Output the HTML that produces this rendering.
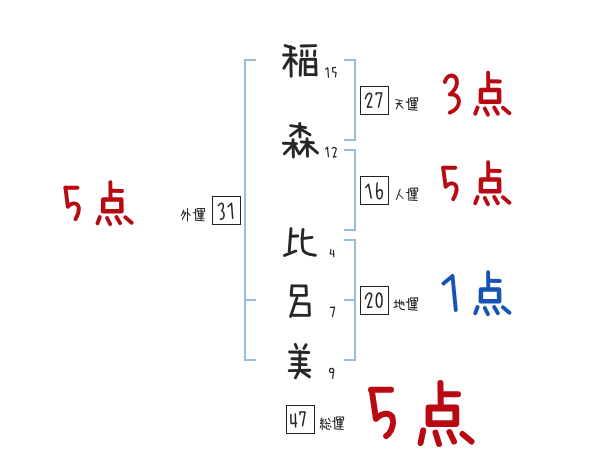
<!DOCTYPE html>
<html><head><meta charset="utf-8"><style>
html,body{margin:0;padding:0;background:#fff;width:600px;height:470px;overflow:hidden;font-family:"Liberation Sans",sans-serif}
svg{display:block}
</style></head><body>
<svg width="600" height="470" viewBox="0 0 600 470">
<rect x="244" y="59" width="2" height="302" fill="#98bddd"/>
<rect x="244" y="59" width="12" height="2" fill="#98bddd"/>
<rect x="244" y="299" width="12" height="2" fill="#98bddd"/>
<rect x="244" y="359" width="12" height="2" fill="#98bddd"/>
<rect x="354" y="59" width="2" height="82" fill="#98bddd"/>
<rect x="344" y="59" width="12" height="2" fill="#98bddd"/>
<rect x="344" y="139" width="12" height="2" fill="#98bddd"/>
<rect x="354" y="149" width="2" height="82" fill="#98bddd"/>
<rect x="344" y="149" width="12" height="2" fill="#98bddd"/>
<rect x="344" y="229" width="12" height="2" fill="#98bddd"/>
<rect x="354" y="239" width="2" height="122" fill="#98bddd"/>
<rect x="344" y="239" width="12" height="2" fill="#98bddd"/>
<rect x="344" y="299" width="12" height="2" fill="#98bddd"/>
<rect x="344" y="359" width="12" height="2" fill="#98bddd"/>
<rect x="360.5" y="86.5" width="28" height="28" fill="none" stroke="#222" stroke-width="1"/>
<rect x="360.5" y="176.5" width="28" height="28" fill="none" stroke="#222" stroke-width="1"/>
<rect x="360.5" y="286.5" width="28" height="28" fill="none" stroke="#222" stroke-width="1"/>
<rect x="212.5" y="196.5" width="28" height="28" fill="none" stroke="#222" stroke-width="1"/>
<rect x="286.5" y="405.5" width="28" height="28" fill="none" stroke="#222" stroke-width="1"/>
<polyline points="285.20,45.60 294.40,48.40" fill="none" stroke="#262626" stroke-width="2.9" stroke-linecap="round" stroke-linejoin="round"/>
<polyline points="283.60,55.00 296.20,55.00" fill="none" stroke="#262626" stroke-width="2.9" stroke-linecap="round" stroke-linejoin="round"/>
<polyline points="290.60,46.80 291.20,76.40" fill="none" stroke="#262626" stroke-width="2.9" stroke-linecap="round" stroke-linejoin="round"/>
<polyline points="289.80,58.40 283.80,68.20" fill="none" stroke="#262626" stroke-width="2.9" stroke-linecap="round" stroke-linejoin="round"/>
<polyline points="292.40,59.20 296.40,63.80" fill="none" stroke="#262626" stroke-width="2.9" stroke-linecap="round" stroke-linejoin="round"/>
<polyline points="301.20,46.00 315.80,45.60" fill="none" stroke="#262626" stroke-width="2.9" stroke-linecap="round" stroke-linejoin="round"/>
<polyline points="301.80,51.00 301.80,55.80" fill="none" stroke="#262626" stroke-width="2.9" stroke-linecap="round" stroke-linejoin="round"/>
<polyline points="307.00,51.00 307.00,55.80" fill="none" stroke="#262626" stroke-width="2.9" stroke-linecap="round" stroke-linejoin="round"/>
<polyline points="314.80,51.00 314.50,55.50" fill="none" stroke="#262626" stroke-width="2.9" stroke-linecap="round" stroke-linejoin="round"/>
<polyline points="300.80,61.00 300.20,75.40" fill="none" stroke="#262626" stroke-width="2.9" stroke-linecap="round" stroke-linejoin="round"/>
<polyline points="305.20,61.00 305.20,74.80" fill="none" stroke="#262626" stroke-width="2.9" stroke-linecap="round" stroke-linejoin="round"/>
<polyline points="301.00,59.40 315.60,59.20 316.00,75.00" fill="none" stroke="#262626" stroke-width="2.9" stroke-linecap="round" stroke-linejoin="round"/>
<polyline points="305.30,66.80 315.60,66.80" fill="none" stroke="#262626" stroke-width="2.9" stroke-linecap="round" stroke-linejoin="round"/>
<polyline points="305.30,74.60 316.00,74.60" fill="none" stroke="#262626" stroke-width="2.9" stroke-linecap="round" stroke-linejoin="round"/>
<polyline points="290.80,125.60 305.60,127.60" fill="none" stroke="#262626" stroke-width="2.9" stroke-linecap="round" stroke-linejoin="round"/>
<polyline points="299.70,123.40 300.00,137.00" fill="none" stroke="#262626" stroke-width="2.9" stroke-linecap="round" stroke-linejoin="round"/>
<polyline points="299.10,129.20 290.60,135.60" fill="none" stroke="#262626" stroke-width="2.9" stroke-linecap="round" stroke-linejoin="round"/>
<polyline points="300.90,129.20 310.00,134.70" fill="none" stroke="#262626" stroke-width="2.9" stroke-linecap="round" stroke-linejoin="round"/>
<polyline points="283.40,143.30 296.50,143.60" fill="none" stroke="#262626" stroke-width="2.9" stroke-linecap="round" stroke-linejoin="round"/>
<polyline points="293.00,139.60 293.40,157.00" fill="none" stroke="#262626" stroke-width="2.9" stroke-linecap="round" stroke-linejoin="round"/>
<polyline points="292.50,145.20 284.40,153.80" fill="none" stroke="#262626" stroke-width="2.9" stroke-linecap="round" stroke-linejoin="round"/>
<polyline points="294.90,146.30 298.90,153.40" fill="none" stroke="#262626" stroke-width="2.9" stroke-linecap="round" stroke-linejoin="round"/>
<polyline points="301.20,141.90 313.40,142.80" fill="none" stroke="#262626" stroke-width="2.9" stroke-linecap="round" stroke-linejoin="round"/>
<polyline points="307.00,138.80 307.50,156.20" fill="none" stroke="#262626" stroke-width="2.9" stroke-linecap="round" stroke-linejoin="round"/>
<polyline points="306.60,144.20 299.50,153.80" fill="none" stroke="#262626" stroke-width="2.9" stroke-linecap="round" stroke-linejoin="round"/>
<polyline points="308.40,145.20 317.50,152.90" fill="none" stroke="#262626" stroke-width="2.9" stroke-linecap="round" stroke-linejoin="round"/>
<polyline points="291.00,228.60 289.20,251.60" fill="none" stroke="#262626" stroke-width="2.9" stroke-linecap="round" stroke-linejoin="round"/>
<polyline points="290.20,236.20 297.80,236.00" fill="none" stroke="#262626" stroke-width="2.9" stroke-linecap="round" stroke-linejoin="round"/>
<polyline points="284.60,255.40 295.80,251.00" fill="none" stroke="#262626" stroke-width="2.9" stroke-linecap="round" stroke-linejoin="round"/>
<polyline points="302.00,238.60 312.00,237.40" fill="none" stroke="#262626" stroke-width="2.9" stroke-linecap="round" stroke-linejoin="round"/>
<path d="M303,229.4 Q301.2,245 303.2,250.5 Q306.5,254.8 315.4,255.2" fill="none" stroke="#262626" stroke-width="2.9" stroke-linecap="round" stroke-linejoin="round"/>
<polyline points="292.00,285.60 306.00,286.00 306.40,295.20 291.20,295.40 292.00,285.60" fill="none" stroke="#262626" stroke-width="2.9" stroke-linecap="round" stroke-linejoin="round"/>
<polyline points="297.00,297.60 290.60,316.40" fill="none" stroke="#262626" stroke-width="2.9" stroke-linecap="round" stroke-linejoin="round"/>
<polyline points="295.00,303.60 309.00,304.00 309.40,315.40 292.60,315.20" fill="none" stroke="#262626" stroke-width="2.9" stroke-linecap="round" stroke-linejoin="round"/>
<polyline points="295.30,344.40 296.90,348.20" fill="none" stroke="#262626" stroke-width="2.9" stroke-linecap="round" stroke-linejoin="round"/>
<polyline points="306.10,344.80 303.90,348.60" fill="none" stroke="#262626" stroke-width="2.9" stroke-linecap="round" stroke-linejoin="round"/>
<polyline points="289.60,352.00 308.80,352.50" fill="none" stroke="#262626" stroke-width="2.9" stroke-linecap="round" stroke-linejoin="round"/>
<polyline points="292.00,358.80 306.00,359.00" fill="none" stroke="#262626" stroke-width="2.9" stroke-linecap="round" stroke-linejoin="round"/>
<polyline points="292.00,364.40 306.20,364.60" fill="none" stroke="#262626" stroke-width="2.9" stroke-linecap="round" stroke-linejoin="round"/>
<polyline points="289.20,370.60 309.80,370.20" fill="none" stroke="#262626" stroke-width="2.9" stroke-linecap="round" stroke-linejoin="round"/>
<polyline points="300.00,351.40 299.50,370.00 295.40,377.80" fill="none" stroke="#262626" stroke-width="2.9" stroke-linecap="round" stroke-linejoin="round"/>
<polyline points="301.60,371.40 309.40,376.80" fill="none" stroke="#262626" stroke-width="2.9" stroke-linecap="round" stroke-linejoin="round"/>
<polyline points="325.61,69.15 327.80,67.80 328.47,77.22" fill="none" stroke="#262626" stroke-width="1.2" stroke-linecap="round" stroke-linejoin="round"/>
<polyline points="335.62,67.45 332.50,67.80 332.90,71.90 336.10,72.50 335.47,76.83" fill="none" stroke="#262626" stroke-width="1.2" stroke-linecap="round" stroke-linejoin="round"/>
<polyline points="325.56,148.98 327.40,147.30 328.45,156.72" fill="none" stroke="#262626" stroke-width="1.2" stroke-linecap="round" stroke-linejoin="round"/>
<path d="M332.2,148.3 Q334.5,146 336.4,148.9 L333.5,157.2 L336.1,156.6" fill="none" stroke="#262626" stroke-width="1.2" stroke-linecap="round" stroke-linejoin="round"/>
<polyline points="330.92,249.47 330.20,254.00 333.72,254.00" fill="none" stroke="#262626" stroke-width="1.2" stroke-linecap="round" stroke-linejoin="round"/>
<polyline points="333.43,250.48 333.77,256.72" fill="none" stroke="#262626" stroke-width="1.2" stroke-linecap="round" stroke-linejoin="round"/>
<polyline points="330.40,307.40 334.60,307.10 332.50,316.60" fill="none" stroke="#262626" stroke-width="1.2" stroke-linecap="round" stroke-linejoin="round"/>
<circle cx="331.6" cy="370.4" r="2.1" fill="none" stroke="#262626" stroke-width="1.2"/>
<polyline points="333.54,371.08 332.66,378.52" fill="none" stroke="#262626" stroke-width="1.2" stroke-linecap="round" stroke-linejoin="round"/>
<path d="M365.4,98.8 Q366.5,93.8 369.6,93.3 Q372,93.5 371.6,96.5 L367.3,107.3 L371.9,107.1" fill="none" stroke="#262626" stroke-width="1.5" stroke-linecap="round" stroke-linejoin="round"/>
<polyline points="376.10,94.60 376.20,93.10 381.70,93.10 378.50,107.10" fill="none" stroke="#262626" stroke-width="1.5" stroke-linecap="round" stroke-linejoin="round"/>
<polyline points="365.70,187.50 368.60,184.30 371.20,198.00" fill="none" stroke="#262626" stroke-width="1.5" stroke-linecap="round" stroke-linejoin="round"/>
<path d="M377.2,183 Q376.3,189 376.8,194.5 Q377.4,198.8 379.4,198.8 Q382.2,198.4 382.4,193.2 Q382.2,189.6 380.2,189.7 Q378.6,189.9 377.4,191.6" fill="none" stroke="#262626" stroke-width="1.5" stroke-linecap="round" stroke-linejoin="round"/>
<path d="M365.4,298.8 Q366.5,293.8 369.6,293.1 Q372,293.5 371.6,296.3 L367.6,307.4 L371.9,307.1" fill="none" stroke="#262626" stroke-width="1.5" stroke-linecap="round" stroke-linejoin="round"/>
<ellipse cx="379.15" cy="300.2" rx="2.9" ry="7.1" fill="none" stroke="#262626" stroke-width="1.5"/>
<path d="M218.4,205.6 Q219.8,203.3 221.6,203.3 Q223.6,203.8 223.3,206.8 Q222.8,209.6 221.6,210.7 Q224.2,212 224.1,215.6 Q223.8,219 220.4,219.3" fill="none" stroke="#262626" stroke-width="1.5" stroke-linecap="round" stroke-linejoin="round"/>
<polyline points="228.00,206.80 231.50,203.30 232.70,218.30" fill="none" stroke="#262626" stroke-width="1.5" stroke-linecap="round" stroke-linejoin="round"/>
<polyline points="290.80,414.60 291.10,423.50 296.50,423.20" fill="none" stroke="#262626" stroke-width="1.5" stroke-linecap="round" stroke-linejoin="round"/>
<polyline points="295.30,413.90 295.60,427.00" fill="none" stroke="#262626" stroke-width="1.5" stroke-linecap="round" stroke-linejoin="round"/>
<polyline points="300.10,414.60 300.00,412.00 305.10,412.00 302.60,425.70" fill="none" stroke="#262626" stroke-width="1.5" stroke-linecap="round" stroke-linejoin="round"/>
<polyline points="406.20,102.10 409.00,102.10" fill="none" stroke="#2a2a2a" stroke-width="1.05" stroke-linecap="round" stroke-linejoin="round"/>
<polyline points="408.60,98.40 408.80,108.80" fill="none" stroke="#2a2a2a" stroke-width="1.05" stroke-linecap="round" stroke-linejoin="round"/>
<polyline points="408.40,109.60 417.20,110.20" fill="none" stroke="#2a2a2a" stroke-width="1.05" stroke-linecap="round" stroke-linejoin="round"/>
<polyline points="410.30,101.00 410.30,97.90 417.60,97.80 417.60,101.00" fill="none" stroke="#2a2a2a" stroke-width="1.05" stroke-linecap="round" stroke-linejoin="round"/>
<polyline points="414.20,99.00 414.20,109.00" fill="none" stroke="#2a2a2a" stroke-width="1.05" stroke-linecap="round" stroke-linejoin="round"/>
<polyline points="411.50,100.40 416.00,100.40 416.00,105.50 411.50,105.50 411.50,100.40" fill="none" stroke="#2a2a2a" stroke-width="1.05" stroke-linecap="round" stroke-linejoin="round"/>
<polyline points="411.50,103.00 416.00,103.00" fill="none" stroke="#2a2a2a" stroke-width="1.05" stroke-linecap="round" stroke-linejoin="round"/>
<polyline points="410.20,107.60 417.00,107.60" fill="none" stroke="#2a2a2a" stroke-width="1.05" stroke-linecap="round" stroke-linejoin="round"/>
<polyline points="406.20,192.40 409.00,192.40" fill="none" stroke="#2a2a2a" stroke-width="1.05" stroke-linecap="round" stroke-linejoin="round"/>
<polyline points="408.60,188.70 408.80,199.10" fill="none" stroke="#2a2a2a" stroke-width="1.05" stroke-linecap="round" stroke-linejoin="round"/>
<polyline points="408.40,199.90 417.20,200.50" fill="none" stroke="#2a2a2a" stroke-width="1.05" stroke-linecap="round" stroke-linejoin="round"/>
<polyline points="410.30,191.30 410.30,188.20 417.60,188.10 417.60,191.30" fill="none" stroke="#2a2a2a" stroke-width="1.05" stroke-linecap="round" stroke-linejoin="round"/>
<polyline points="414.20,189.30 414.20,199.30" fill="none" stroke="#2a2a2a" stroke-width="1.05" stroke-linecap="round" stroke-linejoin="round"/>
<polyline points="411.50,190.70 416.00,190.70 416.00,195.80 411.50,195.80 411.50,190.70" fill="none" stroke="#2a2a2a" stroke-width="1.05" stroke-linecap="round" stroke-linejoin="round"/>
<polyline points="411.50,193.30 416.00,193.30" fill="none" stroke="#2a2a2a" stroke-width="1.05" stroke-linecap="round" stroke-linejoin="round"/>
<polyline points="410.20,197.90 417.00,197.90" fill="none" stroke="#2a2a2a" stroke-width="1.05" stroke-linecap="round" stroke-linejoin="round"/>
<polyline points="406.20,302.10 409.00,302.10" fill="none" stroke="#2a2a2a" stroke-width="1.05" stroke-linecap="round" stroke-linejoin="round"/>
<polyline points="408.60,298.40 408.80,308.80" fill="none" stroke="#2a2a2a" stroke-width="1.05" stroke-linecap="round" stroke-linejoin="round"/>
<polyline points="408.40,309.60 417.20,310.20" fill="none" stroke="#2a2a2a" stroke-width="1.05" stroke-linecap="round" stroke-linejoin="round"/>
<polyline points="410.30,301.00 410.30,297.90 417.60,297.80 417.60,301.00" fill="none" stroke="#2a2a2a" stroke-width="1.05" stroke-linecap="round" stroke-linejoin="round"/>
<polyline points="414.20,299.00 414.20,309.00" fill="none" stroke="#2a2a2a" stroke-width="1.05" stroke-linecap="round" stroke-linejoin="round"/>
<polyline points="411.50,300.40 416.00,300.40 416.00,305.50 411.50,305.50 411.50,300.40" fill="none" stroke="#2a2a2a" stroke-width="1.05" stroke-linecap="round" stroke-linejoin="round"/>
<polyline points="411.50,303.00 416.00,303.00" fill="none" stroke="#2a2a2a" stroke-width="1.05" stroke-linecap="round" stroke-linejoin="round"/>
<polyline points="410.20,307.60 417.00,307.60" fill="none" stroke="#2a2a2a" stroke-width="1.05" stroke-linecap="round" stroke-linejoin="round"/>
<polyline points="193.10,212.70 195.90,212.70" fill="none" stroke="#2a2a2a" stroke-width="1.05" stroke-linecap="round" stroke-linejoin="round"/>
<polyline points="195.50,209.00 195.70,219.40" fill="none" stroke="#2a2a2a" stroke-width="1.05" stroke-linecap="round" stroke-linejoin="round"/>
<polyline points="195.30,220.20 204.10,220.80" fill="none" stroke="#2a2a2a" stroke-width="1.05" stroke-linecap="round" stroke-linejoin="round"/>
<polyline points="197.20,211.60 197.20,208.50 204.50,208.40 204.50,211.60" fill="none" stroke="#2a2a2a" stroke-width="1.05" stroke-linecap="round" stroke-linejoin="round"/>
<polyline points="201.10,209.60 201.10,219.60" fill="none" stroke="#2a2a2a" stroke-width="1.05" stroke-linecap="round" stroke-linejoin="round"/>
<polyline points="198.40,211.00 202.90,211.00 202.90,216.10 198.40,216.10 198.40,211.00" fill="none" stroke="#2a2a2a" stroke-width="1.05" stroke-linecap="round" stroke-linejoin="round"/>
<polyline points="198.40,213.60 202.90,213.60" fill="none" stroke="#2a2a2a" stroke-width="1.05" stroke-linecap="round" stroke-linejoin="round"/>
<polyline points="197.10,218.20 203.90,218.20" fill="none" stroke="#2a2a2a" stroke-width="1.05" stroke-linecap="round" stroke-linejoin="round"/>
<polyline points="332.20,421.30 335.00,421.30" fill="none" stroke="#2a2a2a" stroke-width="1.05" stroke-linecap="round" stroke-linejoin="round"/>
<polyline points="334.60,417.60 334.80,428.00" fill="none" stroke="#2a2a2a" stroke-width="1.05" stroke-linecap="round" stroke-linejoin="round"/>
<polyline points="334.40,428.80 343.20,429.40" fill="none" stroke="#2a2a2a" stroke-width="1.05" stroke-linecap="round" stroke-linejoin="round"/>
<polyline points="336.30,420.20 336.30,417.10 343.60,417.00 343.60,420.20" fill="none" stroke="#2a2a2a" stroke-width="1.05" stroke-linecap="round" stroke-linejoin="round"/>
<polyline points="340.20,418.20 340.20,428.20" fill="none" stroke="#2a2a2a" stroke-width="1.05" stroke-linecap="round" stroke-linejoin="round"/>
<polyline points="337.50,419.60 342.00,419.60 342.00,424.70 337.50,424.70 337.50,419.60" fill="none" stroke="#2a2a2a" stroke-width="1.05" stroke-linecap="round" stroke-linejoin="round"/>
<polyline points="337.50,422.20 342.00,422.20" fill="none" stroke="#2a2a2a" stroke-width="1.05" stroke-linecap="round" stroke-linejoin="round"/>
<polyline points="336.20,426.80 343.00,426.80" fill="none" stroke="#2a2a2a" stroke-width="1.05" stroke-linecap="round" stroke-linejoin="round"/>
<polyline points="395.90,99.40 402.40,100.90" fill="none" stroke="#2a2a2a" stroke-width="1.05" stroke-linecap="round" stroke-linejoin="round"/>
<polyline points="396.30,103.60 401.20,103.60" fill="none" stroke="#2a2a2a" stroke-width="1.05" stroke-linecap="round" stroke-linejoin="round"/>
<polyline points="399.30,101.60 396.40,109.00" fill="none" stroke="#2a2a2a" stroke-width="1.05" stroke-linecap="round" stroke-linejoin="round"/>
<polyline points="399.20,104.30 403.10,108.30" fill="none" stroke="#2a2a2a" stroke-width="1.05" stroke-linecap="round" stroke-linejoin="round"/>
<polyline points="400.20,189.30 396.40,199.40" fill="none" stroke="#2a2a2a" stroke-width="1.05" stroke-linecap="round" stroke-linejoin="round"/>
<polyline points="398.80,194.00 403.00,198.50" fill="none" stroke="#2a2a2a" stroke-width="1.05" stroke-linecap="round" stroke-linejoin="round"/>
<polyline points="394.30,302.50 398.20,302.30" fill="none" stroke="#2a2a2a" stroke-width="1.05" stroke-linecap="round" stroke-linejoin="round"/>
<polyline points="396.00,300.00 396.20,306.80" fill="none" stroke="#2a2a2a" stroke-width="1.05" stroke-linecap="round" stroke-linejoin="round"/>
<polyline points="393.90,307.60 397.60,306.20" fill="none" stroke="#2a2a2a" stroke-width="1.05" stroke-linecap="round" stroke-linejoin="round"/>
<path transform="translate(0,0)" d="M399.5,299.8 L399.7,306.8 Q400.2,309.6 404.4,309.6" fill="none" stroke="#2a2a2a" stroke-width="1.05" stroke-linecap="round" stroke-linejoin="round"/>
<polyline points="398.40,303.30 403.70,302.50 403.90,305.40" fill="none" stroke="#2a2a2a" stroke-width="1.05" stroke-linecap="round" stroke-linejoin="round"/>
<polyline points="401.70,301.10 401.90,304.60" fill="none" stroke="#2a2a2a" stroke-width="1.05" stroke-linecap="round" stroke-linejoin="round"/>
<polyline points="183.70,210.00 181.40,215.60" fill="none" stroke="#2a2a2a" stroke-width="1.05" stroke-linecap="round" stroke-linejoin="round"/>
<polyline points="183.30,212.00 185.90,212.50 182.30,219.40" fill="none" stroke="#2a2a2a" stroke-width="1.05" stroke-linecap="round" stroke-linejoin="round"/>
<polyline points="183.70,213.40 184.80,214.30" fill="none" stroke="#2a2a2a" stroke-width="1.05" stroke-linecap="round" stroke-linejoin="round"/>
<polyline points="187.50,208.50 187.50,221.00" fill="none" stroke="#2a2a2a" stroke-width="1.05" stroke-linecap="round" stroke-linejoin="round"/>
<polyline points="188.10,213.20 190.20,215.40" fill="none" stroke="#2a2a2a" stroke-width="1.05" stroke-linecap="round" stroke-linejoin="round"/>
<polyline points="322.00,418.00 320.60,420.60 323.20,421.20" fill="none" stroke="#2a2a2a" stroke-width="1.05" stroke-linecap="round" stroke-linejoin="round"/>
<polyline points="323.40,419.40 320.40,423.60 324.20,423.00" fill="none" stroke="#2a2a2a" stroke-width="1.05" stroke-linecap="round" stroke-linejoin="round"/>
<polyline points="322.20,424.20 322.20,429.40" fill="none" stroke="#2a2a2a" stroke-width="1.05" stroke-linecap="round" stroke-linejoin="round"/>
<polyline points="320.80,426.00 320.20,427.80" fill="none" stroke="#2a2a2a" stroke-width="1.05" stroke-linecap="round" stroke-linejoin="round"/>
<polyline points="323.40,425.80 324.20,427.20" fill="none" stroke="#2a2a2a" stroke-width="1.05" stroke-linecap="round" stroke-linejoin="round"/>
<polyline points="326.00,419.00 325.00,421.40" fill="none" stroke="#2a2a2a" stroke-width="1.05" stroke-linecap="round" stroke-linejoin="round"/>
<polyline points="328.40,418.40 330.20,421.20" fill="none" stroke="#2a2a2a" stroke-width="1.05" stroke-linecap="round" stroke-linejoin="round"/>
<polyline points="326.80,422.00 325.60,423.80 330.00,423.40" fill="none" stroke="#2a2a2a" stroke-width="1.05" stroke-linecap="round" stroke-linejoin="round"/>
<path transform="translate(0,0)" d="M326.4,425.4 L326.2,428.4 Q326.4,429.4 329.6,429.2" fill="none" stroke="#2a2a2a" stroke-width="1.05" stroke-linecap="round" stroke-linejoin="round"/>
<polyline points="328.20,425.20 328.80,426.40" fill="none" stroke="#2a2a2a" stroke-width="1.05" stroke-linecap="round" stroke-linejoin="round"/>
<polyline points="330.40,426.00 331.00,427.20" fill="none" stroke="#2a2a2a" stroke-width="1.05" stroke-linecap="round" stroke-linejoin="round"/>
<polyline points="324.60,426.60 325.00,427.80" fill="none" stroke="#2a2a2a" stroke-width="1.05" stroke-linecap="round" stroke-linejoin="round"/>
<polyline points="488.10,72.80 488.30,89.50" fill="none" stroke="#b90a14" stroke-width="3.9" stroke-linecap="round" stroke-linejoin="round"/>
<polyline points="490.00,81.30 499.80,81.50" fill="none" stroke="#b90a14" stroke-width="3.9" stroke-linecap="round" stroke-linejoin="round"/>
<polyline points="477.60,107.50 475.20,113.70" fill="none" stroke="#b90a14" stroke-width="3.9" stroke-linecap="round" stroke-linejoin="round"/>
<polyline points="484.80,108.50 487.90,114.70" fill="none" stroke="#b90a14" stroke-width="3.9" stroke-linecap="round" stroke-linejoin="round"/>
<polyline points="494.20,107.50 497.90,113.70" fill="none" stroke="#b90a14" stroke-width="3.9" stroke-linecap="round" stroke-linejoin="round"/>
<polyline points="503.00,107.70 509.40,113.30" fill="none" stroke="#b90a14" stroke-width="3.9" stroke-linecap="round" stroke-linejoin="round"/>
<polyline points="481.00,90.10 499.00,90.10 499.20,101.80 480.80,101.80 481.00,90.10" fill="none" stroke="#b90a14" stroke-width="4.5" stroke-linecap="round" stroke-linejoin="round"/>
<path d="M444.8,82 Q447,75.5 451.5,75.5 Q457,76 457,83 Q456,90 449.8,94.3 Q458,94 459,101 Q459,109 449.8,112.6" fill="none" stroke="#b90a14" stroke-width="3.9" stroke-linecap="round" stroke-linejoin="round"/>
<polyline points="488.10,162.30 488.30,179.00" fill="none" stroke="#b90a14" stroke-width="3.9" stroke-linecap="round" stroke-linejoin="round"/>
<polyline points="490.00,170.80 499.80,171.00" fill="none" stroke="#b90a14" stroke-width="3.9" stroke-linecap="round" stroke-linejoin="round"/>
<polyline points="477.60,197.00 475.20,203.20" fill="none" stroke="#b90a14" stroke-width="3.9" stroke-linecap="round" stroke-linejoin="round"/>
<polyline points="484.80,198.00 487.90,204.20" fill="none" stroke="#b90a14" stroke-width="3.9" stroke-linecap="round" stroke-linejoin="round"/>
<polyline points="494.20,197.00 497.90,203.20" fill="none" stroke="#b90a14" stroke-width="3.9" stroke-linecap="round" stroke-linejoin="round"/>
<polyline points="503.00,197.20 509.40,202.80" fill="none" stroke="#b90a14" stroke-width="3.9" stroke-linecap="round" stroke-linejoin="round"/>
<polyline points="481.00,179.60 499.00,179.60 499.20,191.30 480.80,191.30 481.00,179.60" fill="none" stroke="#b90a14" stroke-width="4.5" stroke-linecap="round" stroke-linejoin="round"/>
<polyline points="443.20,167.70 455.20,167.70" fill="none" stroke="#b90a14" stroke-width="3.9" stroke-linecap="round" stroke-linejoin="round"/>
<path d="M443.2,167.7 L445.6,186.8 Q448.6,183.2 452.2,183.4 Q456.2,183.8 456.6,188.6 Q456.6,194 453.2,199.2" fill="none" stroke="#b90a14" stroke-width="3.9" stroke-linecap="round" stroke-linejoin="round"/>
<polyline points="488.10,272.30 488.30,289.00" fill="none" stroke="#1553b4" stroke-width="3.9" stroke-linecap="round" stroke-linejoin="round"/>
<polyline points="490.00,280.80 499.80,281.00" fill="none" stroke="#1553b4" stroke-width="3.9" stroke-linecap="round" stroke-linejoin="round"/>
<polyline points="477.60,307.00 475.20,313.20" fill="none" stroke="#1553b4" stroke-width="3.9" stroke-linecap="round" stroke-linejoin="round"/>
<polyline points="484.80,308.00 487.90,314.20" fill="none" stroke="#1553b4" stroke-width="3.9" stroke-linecap="round" stroke-linejoin="round"/>
<polyline points="494.20,307.00 497.90,313.20" fill="none" stroke="#1553b4" stroke-width="3.9" stroke-linecap="round" stroke-linejoin="round"/>
<polyline points="503.00,307.20 509.40,312.80" fill="none" stroke="#1553b4" stroke-width="3.9" stroke-linecap="round" stroke-linejoin="round"/>
<polyline points="481.00,289.60 499.00,289.60 499.20,301.30 480.80,301.30 481.00,289.60" fill="none" stroke="#1553b4" stroke-width="4.5" stroke-linecap="round" stroke-linejoin="round"/>
<polyline points="443.50,283.50 452.50,275.90 455.80,310.00" fill="none" stroke="#1553b4" stroke-width="3.9" stroke-linecap="round" stroke-linejoin="round"/>
<polyline points="110.35,182.30 110.55,199.00" fill="none" stroke="#b90a14" stroke-width="3.9" stroke-linecap="round" stroke-linejoin="round"/>
<polyline points="112.25,190.80 122.05,191.00" fill="none" stroke="#b90a14" stroke-width="3.9" stroke-linecap="round" stroke-linejoin="round"/>
<polyline points="99.85,217.00 97.45,223.20" fill="none" stroke="#b90a14" stroke-width="3.9" stroke-linecap="round" stroke-linejoin="round"/>
<polyline points="107.05,218.00 110.15,224.20" fill="none" stroke="#b90a14" stroke-width="3.9" stroke-linecap="round" stroke-linejoin="round"/>
<polyline points="116.45,217.00 120.15,223.20" fill="none" stroke="#b90a14" stroke-width="3.9" stroke-linecap="round" stroke-linejoin="round"/>
<polyline points="125.25,217.20 131.65,222.80" fill="none" stroke="#b90a14" stroke-width="3.9" stroke-linecap="round" stroke-linejoin="round"/>
<polyline points="103.25,199.60 121.25,199.60 121.45,211.30 103.05,211.30 103.25,199.60" fill="none" stroke="#b90a14" stroke-width="4.5" stroke-linecap="round" stroke-linejoin="round"/>
<polyline points="65.45,187.70 77.45,187.70" fill="none" stroke="#b90a14" stroke-width="3.9" stroke-linecap="round" stroke-linejoin="round"/>
<path d="M65.44999999999999,187.7 L67.85000000000002,206.8 Q70.85000000000002,203.2 74.44999999999999,203.4 Q78.44999999999999,203.8 78.85000000000002,208.6 Q78.85000000000002,214 75.44999999999999,219.2" fill="none" stroke="#b90a14" stroke-width="3.9" stroke-linecap="round" stroke-linejoin="round"/>
<polyline points="371.00,389.70 391.00,389.70" fill="none" stroke="#b90a14" stroke-width="6.0" stroke-linecap="round" stroke-linejoin="round"/>
<path d="M371.8,390.4 L375.9,418.8 Q381,413.5 387.5,413.8 Q393.5,415 393,423 Q392,432 386.2,436" fill="none" stroke="#b90a14" stroke-width="6.0" stroke-linecap="round" stroke-linejoin="round"/>
<polyline points="440.40,383.00 440.80,407.00" fill="none" stroke="#b90a14" stroke-width="6.0" stroke-linecap="round" stroke-linejoin="round"/>
<polyline points="444.00,394.20 458.00,394.20" fill="none" stroke="#b90a14" stroke-width="6.0" stroke-linecap="round" stroke-linejoin="round"/>
<polyline points="423.20,430.50 420.60,443.00" fill="none" stroke="#b90a14" stroke-width="6.0" stroke-linecap="round" stroke-linejoin="round"/>
<polyline points="435.50,432.50 439.00,444.00" fill="none" stroke="#b90a14" stroke-width="6.0" stroke-linecap="round" stroke-linejoin="round"/>
<polyline points="449.50,432.00 454.00,441.50" fill="none" stroke="#b90a14" stroke-width="6.0" stroke-linecap="round" stroke-linejoin="round"/>
<polyline points="462.50,434.00 471.50,441.50" fill="none" stroke="#b90a14" stroke-width="6.0" stroke-linecap="round" stroke-linejoin="round"/>
<polyline points="429.00,408.00 455.80,408.00 455.80,423.60 429.00,423.60 429.00,408.00" fill="none" stroke="#b90a14" stroke-width="6.8" stroke-linecap="round" stroke-linejoin="round"/>
</svg>
</body></html>
